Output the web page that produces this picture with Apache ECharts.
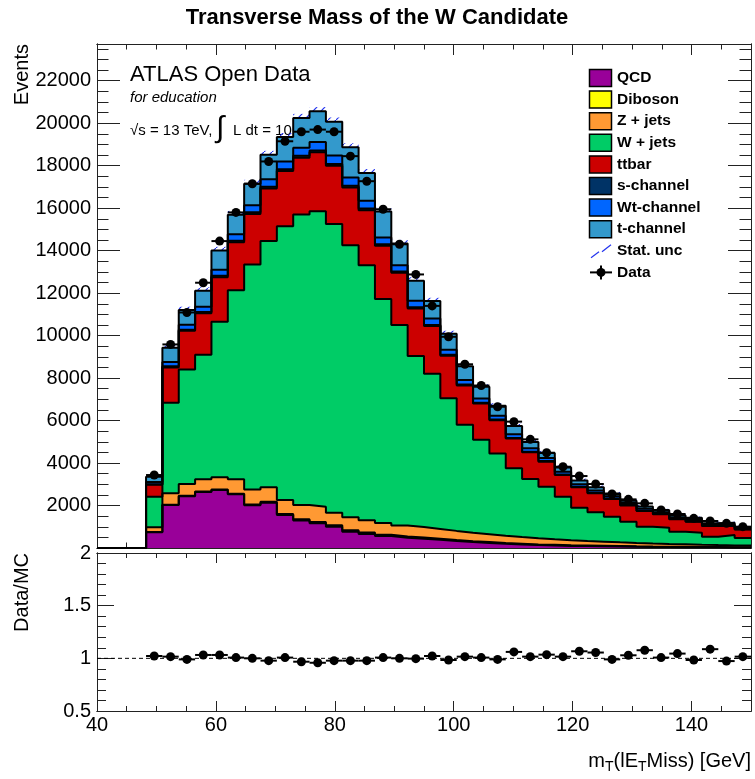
<!DOCTYPE html>
<html>
<head>
<meta charset="utf-8">
<title>Transverse Mass of the W Candidate</title>
<script src="https://cdn.jsdelivr.net/npm/echarts@6/dist/echarts.min.js"></script>
<style>
  html, body { margin: 0; padding: 0; background: #fff; }
  #chart { width: 755px; height: 779px; }
</style>
</head>
<body>
<div id="chart"></div>
<script>
// 40 bins of 2.75 GeV between 40 and 150 GeV, the first three are empty
const binLow = 40
const binWidth = 2.75
const nBins = 40

const qcd = [0, 0, 0, 740, 2020, 2440, 2635, 2730, 2530, 2010, 2130, 1550, 1290, 1160, 1000, 770, 660, 560, 480, 440,
  390, 330, 280, 240, 200, 170, 140, 120, 100, 90, 80, 70, 60, 52, 46, 40, 35, 30, 26, 23]
const diboson = [0, 0, 0, 10, 15, 15, 20, 25, 30, 40, 45, 55, 65, 70, 70, 70, 65, 62, 58, 55,
  50, 46, 42, 40, 36, 33, 30, 28, 26, 24, 22, 20, 18, 17, 16, 15, 14, 13, 12, 11]
const zjets = [0, 0, 0, 225, 540, 555, 580, 575, 675, 710, 680, 650, 670, 715, 590, 605, 580, 550, 520, 490,
  460, 430, 400, 370, 340, 310, 285, 260, 240, 215, 195, 175, 160, 145, 130, 118, 105, 95, 85, 78]
const wjets = [0, 0, 0, 1439, 4263, 5399, 5865, 7320, 8906, 10590, 11595, 12895, 13675, 13905, 13590, 12815, 12013, 10546, 9436, 8050,
  7300, 6244, 5078, 4450, 3874, 3237, 2795, 2478, 2048, 1569, 1381, 1209, 1001, 790, 765, 595, 567, 392, 489, 358]
const ttbar = [0, 0, 0, 566, 1665, 1817, 1950, 2100, 2250, 2380, 2480, 2600, 2680, 2780, 2750, 2715, 2588, 2509, 2462, 2245,
  2250, 2000, 1850, 1700, 1560, 1400, 1255, 1177, 1021, 957, 894, 832, 760, 737, 630, 580, 518, 500, 440, 400]
const schan = [0, 0, 0, 20, 50, 55, 60, 65, 70, 75, 80, 80, 85, 85, 85, 80, 75, 70, 65, 60,
  55, 50, 45, 40, 38, 35, 32, 30, 28, 26, 24, 22, 20, 18, 16, 15, 14, 13, 12, 11]
const wtchan = [0, 0, 0, 110, 210, 230, 250, 290, 310, 330, 350, 370, 380, 400, 390, 390, 365, 325, 297, 298,
  305, 230, 215, 200, 182, 165, 156, 140, 132, 124, 116, 108, 100, 92, 84, 75, 71, 62, 58, 49]
const tchan = [0, 0, 0, 250, 670, 690, 750, 900, 920, 1015, 1150, 1150, 1400, 1450, 1600, 1420, 1312, 1217, 1020, 950,
  820, 760, 650, 550, 470, 390, 300, 240, 200, 170, 143, 131, 106, 101, 89, 93, 95, 63, 70, 58]

const dataCounts = [0, 0, 0, 3435, 9585, 11090, 12490, 14450, 15800, 17150, 18200, 19150, 19600, 19700, 19600, 18450, 17270, 15950, 14300, 12880,
  11400, 9945, 8650, 7650, 6650, 5950, 5115, 4486, 3827, 3388, 3012, 2541, 2290, 2102, 1788, 1600, 1396, 1270, 1161, 1004]
const dataOverMC = [null, null, null, 1.022, 1.016, 0.99, 1.032, 1.032, 1.007, 1.0, 0.978, 1.007, 0.968, 0.958, 0.978, 0.978, 0.978, 1.007, 1.0, 0.997,
  1.022, 0.984, 1.016, 1.007, 0.99, 1.061, 1.016, 1.035, 1.016, 1.067, 1.055, 0.99, 1.029, 1.077, 1.007, 1.045, 0.984, 1.087, 0.974, 1.016]
const mcStatUnc = [0, 0, 0, 90, 150, 160, 165, 175, 180, 185, 190, 190, 195, 195, 195, 190, 185, 180, 170, 160,
  150, 140, 130, 120, 115, 110, 105, 100, 95, 90, 85, 80, 75, 70, 68, 65, 62, 60, 58, 55]

const xTicks = [40, 60, 80, 100, 120, 140]
const eventTicks = [2000, 4000, 6000, 8000, 10000, 12000, 14000, 16000, 18000, 20000, 22000]
const ratioTicks = [0.5, 1, 1.5, 2]

// stack order, bottom to top
const layers = [
  { name: 'QCD', values: qcd, color: '#990099' },
  { name: 'Diboson', values: diboson, color: '#ffff00' },
  { name: 'Z + jets', values: zjets, color: '#ff9933' },
  { name: 'W + jets', values: wjets, color: '#00cc66' },
  { name: 'ttbar', values: ttbar, color: '#cc0000' },
  { name: 's-channel', values: schan, color: '#003366' },
  { name: 'Wt-channel', values: wtchan, color: '#0066ff' },
  { name: 't-channel', values: tchan, color: '#3399cc' },
]

const font = '"Liberation Sans", Arial, Helvetica, sans-serif'
const hatchBlue = '#2233ee'
const edges = Array.from({ length: nBins + 1 }, (_, b) => binLow + b * binWidth)

// cumulative sums, like THStack
const cumulative = []
layers.forEach((l, i) => {
  cumulative.push(l.values.map((v, b) => v + (i ? cumulative[i - 1][b] : 0)))
})
const mcTotal = cumulative[cumulative.length - 1]

const stepPoints = (vals) => edges.map((e, b) => [e, vals[Math.min(b, nBins - 1)]])

const hatchCanvas = document.createElement('canvas')
hatchCanvas.width = 8
hatchCanvas.height = 8
{
  const c = hatchCanvas.getContext('2d')
  c.strokeStyle = hatchBlue
  c.lineWidth = 1.2
  c.beginPath()
  c.moveTo(0, 8)
  c.lineTo(8, 0)
  c.stroke()
}
const hatch = { image: hatchCanvas, repeat: 'repeat' }

const range = (a, b, step) => {
  const out = []
  for (let v = a; v <= b + 1e-9; v += step) out.push(Math.round(v * 1000) / 1000)
  return out
}

function frameAxes(kind, grid, min, max, majors, minors, majorLen, minorLen, labels, margin) {
  const sides = kind === 'x' ? ['bottom', 'top'] : ['left', 'right']
  const out = []
  sides.forEach((side, si) => {
    ;[[majors, majorLen], [minors, minorLen]].forEach(([vals, len], mi) => {
      out.push({
        type: 'value',
        gridIndex: grid,
        position: side,
        offset: 0,
        min,
        max,
        axisLine: { show: true, onZero: false, lineStyle: { color: '#222', width: 1 } },
        axisTick: { show: true, inside: true, length: len, customValues: vals, lineStyle: { color: '#222', width: 1 } },
        axisLabel: si === 0 && mi === 0 && labels
          ? { show: true, customValues: labels, margin, color: '#000', fontSize: 20, fontFamily: font, formatter: (v) => String(v) }
          : { show: false },
        splitLine: { show: false },
        minorTick: { show: false },
      })
    })
  })
  return out
}

const xMinor = range(40, 150, 5)
const xAxis = [
  ...frameAxes('x', 0, 40, 150, xTicks, xMinor, 11, 5.5, null, 0),
  ...frameAxes('x', 1, 40, 150, xTicks, xMinor, 10, 5, xTicks, 4),
]
const yAxis = [
  ...frameAxes('y', 0, 0, 23730, [0, ...eventTicks], range(0, 23500, 500), 23, 11.5, eventTicks, 6),
  ...frameAxes('y', 1, 0.5, 2, ratioTicks, range(0.5, 2, 0.1), 17, 9, ratioTicks, 6),
]

const series = []
for (let i = layers.length - 1; i >= 0; i--) {
  series.push({
    name: layers[i].name,
    type: 'line',
    step: 'end',
    xAxisIndex: 0,
    yAxisIndex: 0,
    data: stepPoints(cumulative[i]),
    symbol: 'none',
    lineStyle: { color: '#000', width: 2 },
    areaStyle: { color: layers[i].color, opacity: 1 },
    silent: true,
  })
}

series.push({
  name: 'Stat. unc',
  type: 'custom',
  xAxisIndex: 0,
  yAxisIndex: 0,
  silent: true,
  data: mcTotal.map((t, b) => [edges[b], edges[b + 1], t, mcStatUnc[b]]).filter((d) => d[2] > 0),
  encode: { x: [0, 1], y: 2 },
  renderItem: (params, api) => {
    const a = api.coord([api.value(0), api.value(2) + api.value(3)])
    const c = api.coord([api.value(1), api.value(2) - api.value(3)])
    return { type: 'rect', shape: { x: a[0], y: a[1], width: c[0] - a[0], height: c[1] - a[1] }, style: { fill: hatch } }
  },
})

const pointItem = (api) => {
  const x = api.value(0), y = api.value(1), hw = api.value(2), e = api.value(3)
  const c = api.coord([x, y]), l = api.coord([x - hw, y]), r = api.coord([x + hw, y])
  const t = api.coord([x, y + e]), d = api.coord([x, y - e])
  return {
    type: 'group',
    children: [
      { type: 'line', shape: { x1: l[0], y1: l[1], x2: r[0], y2: r[1] }, style: { stroke: '#000', lineWidth: 2 } },
      { type: 'line', shape: { x1: t[0], y1: t[1], x2: d[0], y2: d[1] }, style: { stroke: '#000', lineWidth: 2 } },
      { type: 'circle', shape: { cx: c[0], cy: c[1], r: 4.5 }, style: { fill: '#000' } },
    ],
  }
}

series.push({
  name: 'Data',
  type: 'custom',
  xAxisIndex: 0,
  yAxisIndex: 0,
  silent: true,
  z: 5,
  data: dataCounts.map((n, b) => [edges[b] + binWidth / 2, n, binWidth / 2, Math.sqrt(n)]).filter((d) => d[1] > 0),
  encode: { x: 0, y: 1 },
  renderItem: (params, api) => pointItem(api),
})

series.push({
  type: 'line',
  xAxisIndex: 4,
  yAxisIndex: 4,
  data: [[40, 1], [150, 1]],
  symbol: 'none',
  silent: true,
  lineStyle: { color: '#000', width: 1, type: [4, 3] },
})

series.push({
  name: 'Data/MC',
  type: 'custom',
  xAxisIndex: 4,
  yAxisIndex: 4,
  silent: true,
  z: 5,
  data: dataOverMC.map((r, b) => [edges[b] + binWidth / 2, r, binWidth / 2, r ? r / Math.sqrt(dataCounts[b]) : 0]).filter((d) => d[1] != null),
  encode: { x: 0, y: 1 },
  renderItem: (params, api) => pointItem(api),
})

// text pieces
const measure = document.createElement('canvas').getContext('2d')
const textWidth = (s, size, weight = 'normal') => {
  measure.font = `${weight} ${size}px ${font}`
  return measure.measureText(s).width
}

const txt = (text, x, y, size, extra = {}) => ({
  type: 'text',
  x,
  y,
  z: extra.z ?? 50,
  rotation: extra.rotation || 0,
  style: {
    text,
    fill: '#000',
    fontSize: size,
    fontFamily: font,
    fontWeight: extra.weight || 'normal',
    fontStyle: extra.style || 'normal',
    textAlign: extra.align || 'left',
    align: extra.align || 'left',
    textVerticalAlign: extra.valign || 'middle',
    verticalAlign: extra.valign || 'middle',
  },
})

const graphics = []
graphics.push(txt('Transverse Mass of the W Candidate', 377, 18, 22, { weight: 'bold', align: 'center' }))
graphics.push(txt('Events', 22, 44, 20, { rotation: Math.PI / 2, align: 'right' }))
graphics.push(txt('Data/MC', 22, 553, 20, { rotation: Math.PI / 2, align: 'right' }))

// x title with subscripts, right aligned to the frame
const titleParts = [['m', 20, 0], ['T', 14, 6], ['(lE', 20, 0], ['T', 14, 6], ['Miss) [GeV]', 20, 0]]
let tx = 751 - titleParts.reduce((s, p) => s + textWidth(p[0], p[1]), 0)
titleParts.forEach(([s, size, dy]) => {
  graphics.push(txt(s, tx, 761 + dy, size))
  tx += textWidth(s, size)
})

// ATLAS label, drawn under the stack
graphics.push(txt('ATLAS Open Data', 130, 74.5, 22, { z: 0 }))
graphics.push(txt('for education', 130, 98, 15, { z: 0, style: 'italic' }))
graphics.push(txt('\u221As = 13 TeV,', 130, 131, 15, { z: 0 }))
graphics.push(txt('\u222B', 216, 129, 30, { z: 0 }))
const lumi = 'L dt = 10 fb'
graphics.push(txt(lumi, 233, 131, 15, { z: 0 }))
graphics.push(txt('-1', 233 + textWidth(lumi, 15) + 1, 125, 11, { z: 0 }))

// legend
const legendX = 589.5
const legendY0 = 78
const legendStep = 21.6
layers.forEach((l, i) => {
  const cy = legendY0 + i * legendStep
  graphics.push({
    type: 'rect', z: 50,
    shape: { x: legendX, y: cy - 8.5, width: 22, height: 17 },
    style: { fill: l.color, stroke: '#000', lineWidth: 1.5 },
  })
  graphics.push(txt(l.name, 617, cy, 15.5, { weight: 'bold' }))
})
{
  const cy = legendY0 + layers.length * legendStep
  graphics.push({ type: 'line', z: 50, shape: { x1: 591, y1: cy + 7, x2: 599, y2: cy + 1 }, style: { stroke: hatchBlue, lineWidth: 1.2 } })
  graphics.push({ type: 'line', z: 50, shape: { x1: 602, y1: cy + 1, x2: 611, y2: cy - 6 }, style: { stroke: hatchBlue, lineWidth: 1.2 } })
  graphics.push(txt('Stat. unc', 617, cy, 15.5, { weight: 'bold' }))
  const dy = legendY0 + (layers.length + 1) * legendStep
  graphics.push({ type: 'line', z: 50, shape: { x1: 590, y1: dy, x2: 612, y2: dy }, style: { stroke: '#000', lineWidth: 2 } })
  graphics.push({ type: 'line', z: 50, shape: { x1: 601, y1: dy - 7, x2: 601, y2: dy + 7 }, style: { stroke: '#000', lineWidth: 2 } })
  graphics.push({ type: 'circle', z: 50, shape: { cx: 601, cy: dy, r: 4.5 }, style: { fill: '#000' } })
  graphics.push(txt('Data', 617, dy, 15.5, { weight: 'bold' }))
}

const chart = echarts.init(document.getElementById('chart'), null, { renderer: 'canvas' })
chart.setOption({
  backgroundColor: '#fff',
  animation: false,
  textStyle: { fontFamily: font },
  grid: [
    { left: 97, top: 44, width: 654, height: 504, outerBoundsMode: 'none' },
    { left: 97, top: 553, width: 654, height: 158, outerBoundsMode: 'none' },
  ],
  xAxis,
  yAxis,
  series,
  graphic: { elements: graphics },
})
</script>
</body>
</html>
